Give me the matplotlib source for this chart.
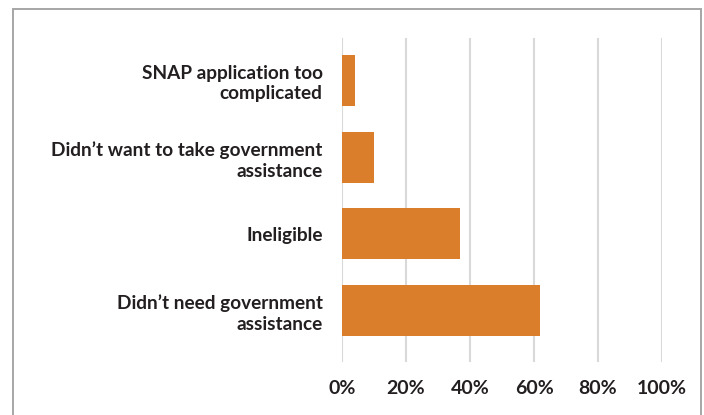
import matplotlib
matplotlib.use("Agg")
import matplotlib.pyplot as plt
from matplotlib.patches import Rectangle
from matplotlib.ticker import FuncFormatter

# reasons for not applying for SNAP (share of respondents)
reasons = [
    "SNAP application too\ncomplicated",
    "Didn\u2019t want to take government\nassistance",
    "Ineligible",
    "Didn\u2019t need government\nassistance",
]
shares = [0.04, 0.10, 0.37, 0.62]
x_ticks = [0, 0.2, 0.4, 0.6, 0.8, 1.0]

bar_color = "#DB7E2B"
text_color = "#231F20"

plt.rcParams["font.family"] = ["Lato", "DejaVu Sans"]

W, H = 704, 415
fig = plt.figure(figsize=(W / 100, H / 100), dpi=100)

# outer frame, bottom edge falls off the image
frame = Rectangle((13 / W, -0.1), (701 - 13) / W, 1.1 - 9 / H,
                  transform=fig.transFigure, fill=False,
                  edgecolor="#A6A6A6", linewidth=1.4)
fig.patches.append(frame)

ax = fig.add_axes([342 / W, 1 - 362 / H, 320 / W, 324 / H])
pos = list(range(len(reasons)))
ax.barh(pos, shares, height=0.665, color=bar_color, zorder=3)

ax.set_xlim(0, 1)
ax.set_ylim(3.671, -0.554)
ax.set_xticks(x_ticks)
ax.xaxis.set_major_formatter(FuncFormatter(lambda v, p: f"{v * 100:.0f}%"))
ax.set_yticks(pos)
ax.set_yticklabels(reasons, linespacing=1.25)

ax.grid(axis="x", color="#D9D9D9", linewidth=1.5, zorder=0)
for s in ax.spines.values():
    s.set_visible(False)

ax.tick_params(axis="x", length=0, pad=13, labelsize=14, labelcolor=text_color)
ax.tick_params(axis="y", length=0, pad=14, labelsize=13.7, labelcolor=text_color)
for lbl in ax.get_xticklabels() + ax.get_yticklabels():
    lbl.set_fontweight("bold")

fig.savefig("out.png", dpi=100)
